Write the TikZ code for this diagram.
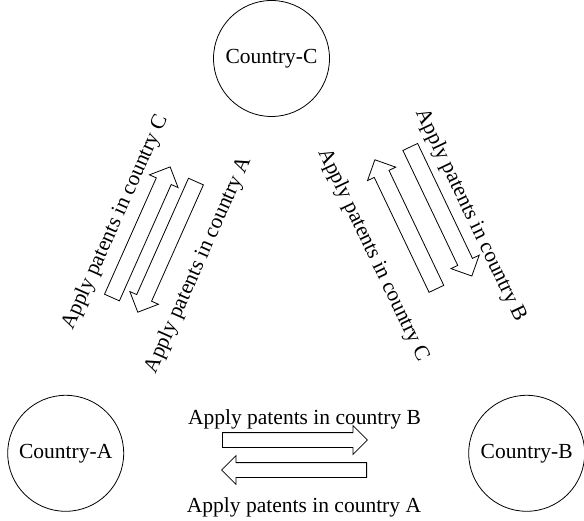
\documentclass[tikz,border=0pt]{standalone}
\usepackage{fontspec}
\setmainfont{Liberation Serif}
\usetikzlibrary{shapes.arrows}
\begin{document}
\begin{tikzpicture}[x=1pt,y=-1pt,
  country/.style={circle, draw, line width=0.8pt, minimum size=116pt, inner sep=0pt, font=\fontsize{21.5}{24}\selectfont},
  lbl/.style={inner sep=0pt, font=\fontsize{21.5}{24}\selectfont},
  fat/.style={single arrow, draw, line width=0.8pt, inner xsep=0pt, inner ysep=7.75pt, single arrow head extend=7.5pt, minimum height=143pt, anchor=tail, single arrow tip angle=90},
  hfat/.style={fat, inner ysep=7pt, single arrow head extend=7pt, minimum height=145pt}
]
\useasboundingbox (0,0) rectangle (584,521);
% countries
\node[country] (C) at (271.5,58.5) {Country-C};
\node[country] (A) at (65.7,453.3) {Country-A};
\node[country] (B) at (526.7,453.3) {Country-B};
% left pair (A <-> C)
\node[fat, rotate=66] (acUp) at (111.8,297.9) {};
\node[fat, rotate=246] (caDown) at (196.1,181.2) {};
\node[lbl, rotate=66] (tAC) at (115.3,222.5) {Apply patents in country C};
\node[lbl, rotate=66] (tCA) at (198.4,265) {Apply patents in country A};
% right pair (B <-> C)
\node[fat, rotate=115.5] (bcUp) at (436.6,289.2) {};
\node[fat, rotate=-64.5] (cbDown) at (410.1,146.6) {};
\node[lbl, rotate=-64.5] (tCB) at (470.5,215.5) {Apply patents in country B};
\node[lbl, rotate=-64.5] (tBC) at (373,255) {Apply patents in country C};
% bottom pair (A <-> B)
\node[hfat] (abRight) at (222,440) {};
\node[hfat, rotate=180] (baLeft) at (367,470) {};
\node[lbl, anchor=base] (tAB) at (304.5,424.5) {Apply patents in country B};
\node[lbl, anchor=base] (tBA) at (304,512) {Apply patents in country A};
\end{tikzpicture}
\end{document}
